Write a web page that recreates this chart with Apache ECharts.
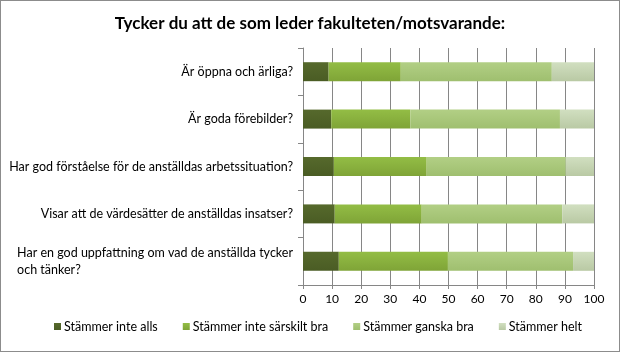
<!DOCTYPE html>
<html>
<head>
<meta charset="utf-8">
<script src="https://cdn.jsdelivr.net/npm/echarts@6/dist/echarts.min.js"></script>
<style>
  html, body { margin: 0; padding: 0; background: #fff; }
  #main { width: 618px; height: 350px; border: 1px solid #8c8c8c; }
</style>
</head>
<body>
<div id="main"></div>
<script>
var questions = [
    'Är öppna och ärliga?',
    'Är goda förebilder?',
    'Har god förståelse för de anställdas arbetssituation?',
    'Visar att de värdesätter de anställdas insatser?',
    'Har en god uppfattning om vad de anställda tycker\noch tänker?'
];
var answers = ['Stämmer inte alls', 'Stämmer inte särskilt bra', 'Stämmer ganska bra', 'Stämmer helt'];
var inteAlls = [8.8, 9.7, 10.6, 10.9, 12.3];
var inteSarskilt = [24.8, 27.2, 31.9, 29.9, 37.5];
var ganskaBra = [51.9, 51.4, 47.8, 48.3, 43.0];
var helt = [14.5, 11.7, 9.7, 10.9, 7.2];
var xTicks = [0, 10, 20, 30, 40, 50, 60, 70, 80, 90, 100];

var colors = [
    ['#56692c', '#4a5c24'],
    ['#93bd45', '#7fa437'],
    ['#b2cf85', '#9fbf6f'],
    ['#d1dfc0', '#b9c9a4']
];

function grad(c) {
    return new echarts.graphic.LinearGradient(0, 0, 0, 1, [
        { offset: 0, color: c[0] },
        { offset: 1, color: c[1] }
    ]);
}

var values = [inteAlls, inteSarskilt, ganskaBra, helt];
var series = answers.map(function (name, i) {
    return {
        name: name,
        type: 'bar',
        stack: 'total',
        barWidth: 19,
        data: values[i],
        itemStyle: { color: grad(colors[i]) }
    };
});

var myChart = echarts.init(document.getElementById('main'));
myChart.setOption({
    animation: false,
    textStyle: { fontFamily: 'Lato' },
    color: colors.map(function (c) { return c[0]; }),
    title: {
        text: 'Tycker du att de som leder fakulteten/motsvarande:',
        left: 'center',
        top: 9,
        textStyle: { fontFamily: 'Lato', fontSize: 17, fontWeight: 'bold', color: '#000' }
    },
    legend: {
        bottom: 13,
        left: 48,
        itemWidth: 7,
        itemHeight: 7,
        itemGap: 25,
        icon: 'rect',
        textStyle: { fontSize: 12.5, color: '#000', padding: [0, 0, 0, -2] },
        data: answers
    },
    grid: { left: 302, right: 25, top: 47, bottom: 66 },
    xAxis: {
        type: 'value',
        min: 0,
        max: 100,
        interval: 10,
        axisLine: { show: true, lineStyle: { color: '#868686' } },
        axisTick: { show: true, length: 4, lineStyle: { color: '#868686' } },
        splitLine: { show: true, lineStyle: { color: '#868686' } },
        axisLabel: {
            color: '#000',
            fontSize: 12,
            margin: 8,
            formatter: function (v) { return xTicks.indexOf(v) >= 0 ? String(v) : ''; }
        }
    },
    yAxis: {
        type: 'category',
        inverse: true,
        data: questions,
        axisLine: { show: true, lineStyle: { color: '#868686' } },
        axisTick: { show: true, length: 5, lineStyle: { color: '#868686' } },
        axisLabel: {
            color: '#000',
            fontSize: 12.5,
            margin: 10,
            lineHeight: 17,
            formatter: function (v) { return '{l|' + v.split('\n').join('}\n{l|') + '}'; },
            rich: { l: { align: 'left', fontSize: 12.5, color: '#000', lineHeight: 17 } }
        }
    },
    series: series
});
</script>
</body>
</html>
